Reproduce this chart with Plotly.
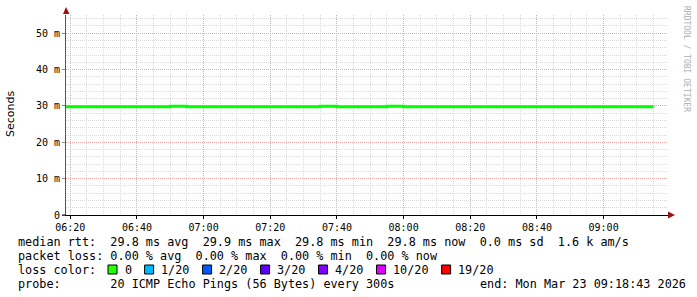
import plotly.graph_objects as go
import pandas as pd

# ---------------- data ----------------
interval_starts = pd.date_range("2026-03-23 06:15:00", "2026-03-23 09:15:00", freq="5min")
median_rtt_ms = [29.8, 29.8, 29.8, 29.8, 29.8, 29.8, 29.8, 29.9, 29.8, 29.8,
                 29.8, 29.8, 29.8, 29.8, 29.8, 29.8, 29.9, 29.8, 29.8, 29.8,
                 29.9, 29.8, 29.8, 29.8, 29.8, 29.8, 29.8, 29.8, 29.8, 29.8,
                 29.8, 29.8, 29.8, 29.8, 29.8, 29.8, 29.8]
y_tick_vals = [0, 0.01, 0.02, 0.03, 0.04, 0.05]
y_tick_text = ["0", "10 m", "20 m", "30 m", "40 m", "50 m"]
loss_labels = ["0", "1/20", "2/20", "3/20", "4/20", "10/20", "19/20"]
loss_colors = ["#26ff00", "#00b8ff", "#0059ff", "#5e00ff", "#7e00ff", "#dd00ff", "#ff0000"]
stats_line = "median rtt:  29.8 ms avg  29.9 ms max  29.8 ms min  29.8 ms now  0.0 ms sd  1.6 k am/s"
loss_line = "packet loss: 0.00 % avg  0.00 % max  0.00 % min  0.00 % now"
probe_line = "probe:       20 ICMP Echo Pings (56 Bytes) every 300s"
end_line = "end: Mon Mar 23 09:18:43 2026"
x_start = "2026-03-23 06:18:43"
x_end = "2026-03-23 09:19:19"

# ---------------- layout helpers ----------------
W, H = 697, 297
L, R, T, B = 66, 29, 15, 82
PW, PH = W - L - R, H - T - B
MONO = "DejaVu Sans Mono"


def px(x):
    return (x - L) / PW


def py(y):
    return (T + PH - y) / PH


fig = go.Figure()
fig.add_trace(go.Scatter(
    x=interval_starts, y=[v / 1000 for v in median_rtt_ms],
    mode="lines", line=dict(color="#00ff00", width=3, shape="hv"),
    hoverinfo="skip", showlegend=False))

annotations = []
shapes = []

# axis arrows
arrow_col = "#9b1010"
shapes.append(dict(type="path", xref="paper", yref="paper",
                   path=f"M {px(66)} {py(7)} L {px(63)} {py(14)} L {px(69.5)} {py(14)} Z",
                   fillcolor=arrow_col, line=dict(width=0)))
shapes.append(dict(type="path", xref="paper", yref="paper",
                   path=f"M {px(675)} {py(215)} L {px(668)} {py(211.5)} L {px(668)} {py(218.5)} Z",
                   fillcolor=arrow_col, line=dict(width=0)))
# small extension of the x axis to the left of the y axis
shapes.append(dict(type="line", xref="paper", yref="paper",
                   x0=px(62), x1=px(66), y0=0, y1=0, line=dict(color="#000", width=1)))

# y title
annotations.append(dict(text="Seconds", x=px(10), y=py(114), xref="paper", yref="paper",
                        textangle=-90, showarrow=False, xanchor="center", yanchor="middle",
                        font=dict(family="DejaVu Sans", size=11, color="#000")))
# watermark
annotations.append(dict(text="RRDTOOL / TOBI OETIKER", x=px(686), y=py(59), xref="paper", yref="paper",
                        textangle=90, showarrow=False, xanchor="center", yanchor="middle",
                        font=dict(family=MONO, size=8, color="#b0b0b0")))

FS = 11.8
CW = 7.12


def text_at(txt, x, y):
    annotations.append(dict(text=txt, x=px(x), y=py(y), xref="paper", yref="paper",
                            showarrow=False, xanchor="left", yanchor="middle",
                            font=dict(family=MONO, size=FS, color="#000")))


text_at(stats_line, 16, 241.5)
text_at(loss_line, 16, 255.5)
text_at("loss color:", 16, 269.5)
text_at(probe_line, 16, 283.5)
text_at(end_line, 478, 283.5)

bx = 108
for lab, col in zip(loss_labels, loss_colors):
    shapes.append(dict(type="rect", xref="paper", yref="paper",
                       x0=px(bx), x1=px(bx + 9), y0=py(265), y1=py(274),
                       fillcolor=col, line=dict(color="#000", width=1)))
    text_at(lab, bx + 14.5, 269.5)
    bx = bx + 14.5 + CW * len(lab) + 15

fig.update_layout(
    width=W, height=H, margin=dict(l=L, r=R, t=T, b=B),
    paper_bgcolor="#ffffff", plot_bgcolor="#ffffff",
    showlegend=False, annotations=annotations, shapes=shapes,
    xaxis=dict(type="date", range=[x_start, x_end], tick0="2026-03-23 06:20:00",
               dtick=20 * 60 * 1000, tickformat="%H:%M",
               showgrid=True, gridcolor="#e8a8a8", griddash="1px,1px", gridwidth=1,
               minor=dict(dtick=5 * 60 * 1000, showgrid=True, gridcolor="#dadada",
                          griddash="1px,1px", gridwidth=1),
               showline=True, linecolor="#000", linewidth=1,
               ticks="outside", ticklen=3, tickcolor="#000",
               tickfont=dict(family=MONO, size=10, color="#000"),
               zeroline=False, fixedrange=True),
    yaxis=dict(range=[0, 0.055], tickvals=y_tick_vals, ticktext=y_tick_text,
               showgrid=True, gridcolor="#e8a8a8", griddash="1px,1px", gridwidth=1,
               minor=dict(dtick=0.002, showgrid=True, gridcolor="#dadada",
                          griddash="1px,1px", gridwidth=1),
               showline=True, linecolor="#555", linewidth=1,
               ticks="outside", ticklen=3, tickcolor="#888",
               tickfont=dict(family=MONO, size=10, color="#000"),
               zeroline=False, fixedrange=True),
)

fig.write_html("out.html", config={"displayModeBar": False})
